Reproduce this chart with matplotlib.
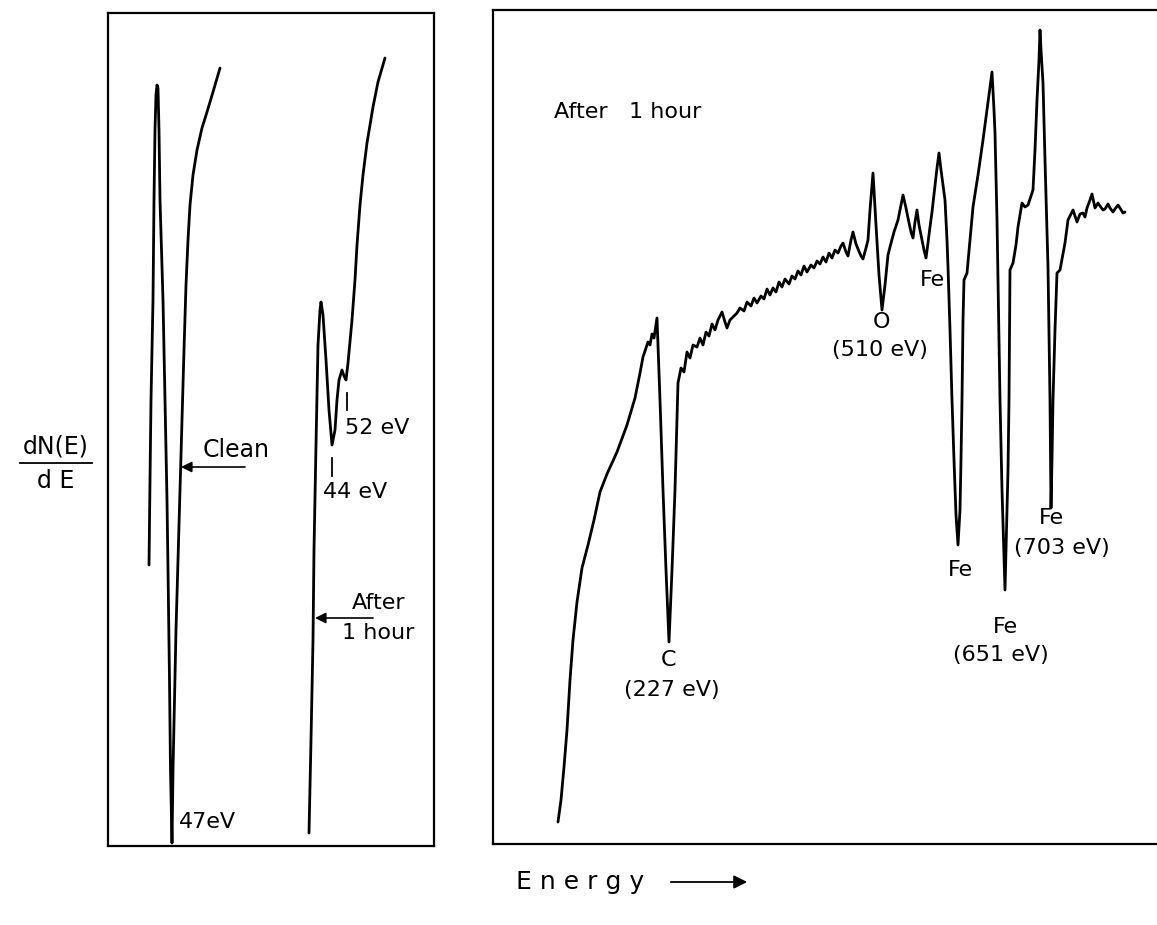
import matplotlib
matplotlib.use("Agg")
import matplotlib.pyplot as plt
from matplotlib.patches import FancyArrowPatch
from matplotlib.lines import Line2D

W, H = 1157, 925
plt.rcParams['font.family'] = ['DejaVu Sans']

# ---------------- data (arbitrary chart-recorder units) ----------------
# Left panel: low-energy region, clean surface
clean_E = [149, 150, 151, 153, 154, 155, 156, 157, 158, 159, 160, 163, 165, 167, 168, 169.5, 170.5, 172,
           173, 174.5, 176, 178, 180, 182, 184, 186, 188, 190, 193, 197, 202, 207, 213, 220]
clean_S = [565, 480, 400, 300, 200, 130, 95, 85, 88, 130, 200, 300, 400, 500, 570, 680, 770, 843,
           770, 700, 630, 560, 490, 420, 350, 285, 240, 205, 175, 150, 128, 112, 92, 68]
# Left panel: after 1 hour
hour_E = [309, 311, 313, 314, 316, 318, 320, 321, 323, 326, 329, 332, 335, 337, 339, 342, 344, 346,
          348, 352, 355, 357, 360, 363, 367, 370, 373, 378, 385]
hour_S = [833, 740, 640, 550, 445, 345, 310, 302, 315, 360, 410, 445, 430, 400, 380, 370, 376, 380,
          363, 320, 280, 245, 205, 175, 143, 125, 107, 82, 58]

# Right panel: wide energy scan after 1 hour
wide_E = [558, 561, 564, 567, 570, 573, 577, 582, 588, 594, 600, 607, 617, 627, 635, 640, 643, 646, 648,
          650, 652, 654, 657, 660, 663, 666, 669, 672, 675, 677,
          678, 681, 684, 687, 690, 693, 697, 700, 703, 706, 709, 712, 715, 718, 722, 725, 727, 730, 733,
          737, 740, 744, 747, 751, 754, 757, 761, 764, 767, 770, 773, 776, 779, 782, 785, 789, 792, 795,
          798, 801, 804, 807, 811, 814, 817, 820, 823, 826, 829, 832, 835, 838, 841, 843, 846, 848, 851,
          853, 856, 858, 861, 863, 866, 868, 870,
          873, 876, 879, 882, 885, 888, 890, 894, 898, 901, 903, 906,
          908, 911, 913, 915, 917, 919, 922, 924, 926, 928, 930, 932, 934, 935, 937, 939, 941, 943, 945,
          947, 948, 950, 952, 954, 956, 958, 960, 961, 962, 963, 964, 967, 970, 973, 978, 983, 987, 990,
          992, 994, 995, 997, 1000, 1002, 1004, 1005, 1006, 1008, 1009, 1010, 1013, 1016, 1018, 1022, 1025,
          1028, 1033, 1035, 1037, 1039, 1040, 1041, 1043, 1045, 1048, 1050, 1051, 1052, 1053, 1055, 1057,
          1060, 1065, 1068, 1073, 1077, 1080, 1083, 1085, 1087, 1090, 1092, 1095, 1098, 1100, 1103, 1105,
          1108, 1110, 1113, 1115, 1118, 1120, 1123, 1125]
wide_S = [822, 800, 767, 730, 680, 640, 602, 568, 545, 520, 492, 474, 452, 425, 398, 373, 357, 348, 342,
          345, 334, 338, 318, 400, 490, 570, 642, 570, 490, 420,
          383, 368, 372, 352, 358, 345, 347, 338, 345, 332, 336, 324, 330, 320, 312, 322, 328, 320, 317,
          313, 308, 311, 302, 306, 298, 303, 296, 299, 289, 295, 288, 292, 282, 287, 279, 284, 276, 279,
          271, 275, 266, 272, 265, 268, 261, 264, 257, 262, 253, 258, 250, 253, 246, 243, 252, 256, 240,
          232, 244, 249, 256, 259, 248, 240, 210,
          173, 225, 275, 310, 285, 255, 247, 232, 220, 205, 195, 208,
          218, 232, 238, 222, 210, 225, 240, 250, 258, 243, 227, 212, 194, 185, 168, 153, 170, 185, 200,
          240, 267, 330, 400, 460, 515, 545, 510, 460, 400, 320, 280, 273, 240, 207, 175, 140, 110, 88,
          72, 110, 133, 220, 400, 490, 555, 590, 550, 470, 400, 270, 263, 245, 227, 203, 207,
          205, 190, 150, 100, 60, 30, 50, 83, 160, 267, 400, 508, 460, 400, 330, 273,
          270, 243, 220, 210, 222, 214, 213, 217, 208, 200, 194, 208, 203, 206, 210, 209,
          204, 208, 212, 209, 205, 208, 213, 212]

# ---------------- figure ----------------
fig = plt.figure(figsize=(W / 100, H / 100), dpi=100)


def rect(x0, y0, x1, y1):
    return [x0 / W, 1 - y1 / H, (x1 - x0) / W, (y1 - y0) / H]


LW = 2.0
FS = 16

# Left panel
axL = fig.add_axes(rect(108, 13, 434, 846))
axL.plot(clean_E, clean_S, color='black', lw=LW, solid_joinstyle='round', solid_capstyle='round')
axL.plot(hour_E, hour_S, color='black', lw=LW, solid_joinstyle='round', solid_capstyle='round')
axL.set_xlim(108, 434)
axL.set_ylim(846, 13)
axL.set_xticks([]); axL.set_yticks([])
for s in axL.spines.values():
    s.set_linewidth(1.6)

arrow_kw = dict(arrowstyle='-|>', lw=1.2, color='black', mutation_scale=16, shrinkA=0, shrinkB=0)
axL.text(236, 450, 'Clean', fontsize=FS + 1, ha='center', va='center')
axL.annotate('', xy=(181, 467), xytext=(245, 467), arrowprops=arrow_kw)
axL.plot([347, 347], [393, 410], color='black', lw=1.3)
axL.text(345, 428, '52 eV', fontsize=FS, ha='left', va='center')
axL.plot([332, 332], [458, 476], color='black', lw=1.3)
axL.text(323, 492, '44 eV', fontsize=FS, ha='left', va='center')
axL.text(179, 822, '47eV', fontsize=FS, ha='left', va='center')
axL.text(379, 603, 'After', fontsize=FS, ha='center', va='center')
axL.text(378, 633, '1 hour', fontsize=FS, ha='center', va='center')
axL.annotate('', xy=(315, 618), xytext=(373, 618), arrowprops=arrow_kw)

# Right panel
axR = fig.add_axes(rect(493, 10, 1157, 844))
axR.plot(wide_E, wide_S, color='black', lw=LW, solid_joinstyle='round', solid_capstyle='round')
axR.set_xlim(493, 1157)
axR.set_ylim(844, 10)
axR.set_xticks([]); axR.set_yticks([])
axR.spines['right'].set_visible(False)
for s in ['left', 'top', 'bottom']:
    axR.spines[s].set_linewidth(1.6)

axR.text(628, 112, 'After   1 hour', fontsize=FS, ha='center', va='center')
axR.text(669, 660, 'C', fontsize=FS, ha='center', va='center')
axR.text(672, 690, '(227 eV)', fontsize=FS, ha='center', va='center')
axR.text(882, 322, 'O', fontsize=FS, ha='center', va='center')
axR.text(880, 350, '(510 eV)', fontsize=FS, ha='center', va='center')
axR.text(932, 280, 'Fe', fontsize=FS, ha='center', va='center')
axR.text(960, 570, 'Fe', fontsize=FS, ha='center', va='center')
axR.text(1005, 627, 'Fe', fontsize=FS, ha='center', va='center')
axR.text(1001, 655, '(651 eV)', fontsize=FS, ha='center', va='center')
axR.text(1051, 518, 'Fe', fontsize=FS, ha='center', va='center')
axR.text(1062, 548, '(703 eV)', fontsize=FS, ha='center', va='center')

# Axis labels outside the panels
fig.text(56 / W, 1 - 447 / H, 'dN(E)', fontsize=FS + 1, ha='center', va='center')
fig.add_artist(Line2D([20 / W, 92 / W], [1 - 463 / H, 1 - 463 / H], color='black', lw=1.3))
fig.text(56 / W, 1 - 481 / H, 'd E', fontsize=FS + 1, ha='center', va='center')

fig.text(580 / W, 1 - 882 / H, 'E n e r g y', fontsize=FS + 2, ha='center', va='center')
fig.add_artist(FancyArrowPatch((668 / W, 1 - 882 / H), (750 / W, 1 - 882 / H),
                               transform=fig.transFigure, arrowstyle='-|>',
                               mutation_scale=20, lw=1.3, color='black'))

fig.savefig('out.png', dpi=100)
